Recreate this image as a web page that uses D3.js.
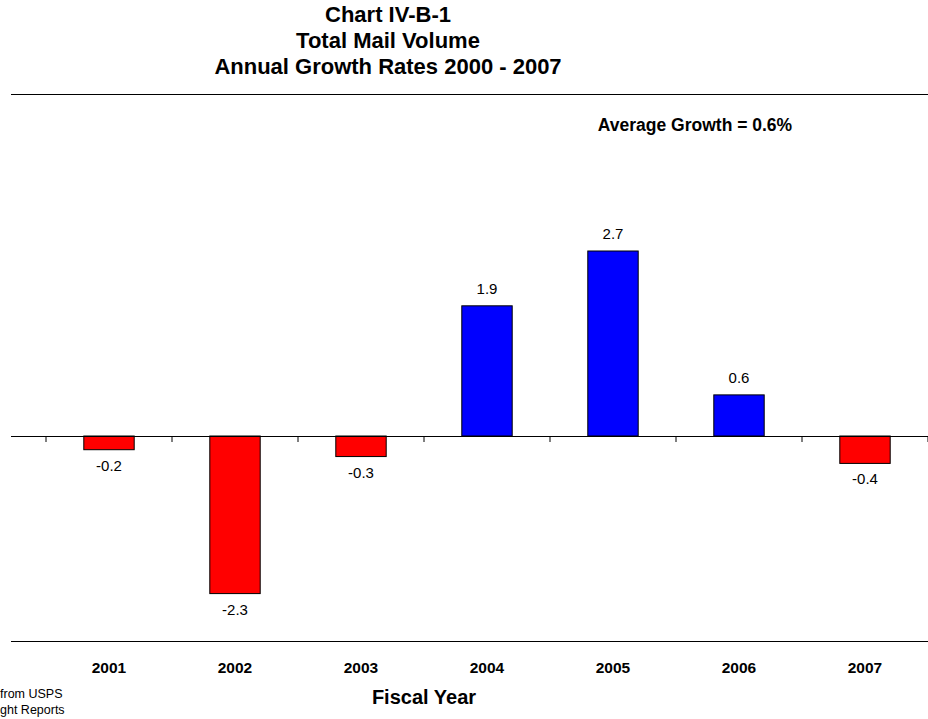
<!DOCTYPE html>
<html><head><meta charset="utf-8">
<script src="https://cdn.jsdelivr.net/npm/d3@7"></script>
<style>body{margin:0;background:#fff}svg{display:block}text{font-family:"Liberation Sans",Arial,sans-serif}</style>
</head><body>
<svg id="c" width="928" height="719"></svg>
<script>
const years = ["2001","2002","2003","2004","2005","2006","2007"];
const growth = [-0.2,-2.3,-0.3,1.9,2.7,0.6,-0.4];
const titleLines = ["Chart IV-B-1","Total Mail Volume","Annual Growth Rates 2000 - 2007"];
const avgNote = "Average Growth = 0.6%";
const xTitle = "Fiscal Year";
const sourceLines = ["from USPS","ght Reports"];

const svg = d3.select("#c");
const x = d3.scaleBand().domain(years).range([46,928]).paddingInner(0.6).paddingOuter(0.3);
const y = d3.scaleLinear().domain([0,2.7]).range([436,251]);

// title
svg.selectAll("text.title").data(titleLines).join("text")
  .attr("x",388).attr("y",(d,i)=>22+i*26).attr("text-anchor","middle")
  .attr("font-weight","bold").attr("font-size",22).text(d=>d);
svg.append("line").attr("x1",11).attr("x2",928).attr("y1",94.5).attr("y2",94.5).attr("stroke","#000");
svg.append("text").attr("x",695).attr("y",131).attr("text-anchor","middle")
  .attr("font-weight","bold").attr("font-size",17.5).text(avgNote);

// bars
svg.selectAll("rect.bar").data(growth).join("rect")
  .attr("x",(d,i)=>x(years[i])).attr("width",x.bandwidth())
  .attr("y",d=>y(Math.max(0,d))).attr("height",d=>Math.abs(y(d)-y(0)))
  .attr("fill",d=>d<0?"#ff0000":"#0000ff").attr("stroke","#000").attr("stroke-width",1);

// labels
svg.selectAll("text.val").data(growth).join("text")
  .attr("x",(d,i)=>x(years[i])+x.bandwidth()/2)
  .attr("y",d=>d>=0?y(d)-12:y(d)+21)
  .attr("text-anchor","middle").attr("font-size",15).text(d=>d.toFixed(1));

// zero axis
svg.append("line").attr("x1",11).attr("x2",928).attr("y1",436.5).attr("y2",436.5).attr("stroke","#000");
const edges = years.map(d=>x(d)+x.bandwidth()/2 - x.step()/2).concat([x(years[years.length-1])+x.bandwidth()/2 + x.step()/2]);
svg.selectAll("line.tick").data(edges).join("line")
  .attr("x1",d=>d).attr("x2",d=>d).attr("y1",436).attr("y2",442).attr("stroke","#000");

// bottom line
svg.append("line").attr("x1",11).attr("x2",928).attr("y1",641.5).attr("y2",641.5).attr("stroke","#000");
svg.selectAll("text.yr").data(years).join("text")
  .attr("x",d=>x(d)+x.bandwidth()/2).attr("y",673).attr("text-anchor","middle")
  .attr("font-weight","bold").attr("font-size",15.5).text(d=>d);
svg.append("text").attr("x",424).attr("y",704).attr("text-anchor","middle")
  .attr("font-weight","bold").attr("font-size",20).text(xTitle);
svg.selectAll("text.src").data(sourceLines).join("text")
  .attr("x",0).attr("y",(d,i)=>698+i*16).attr("font-size",12.5).text(d=>d);
</script>
</body></html>
